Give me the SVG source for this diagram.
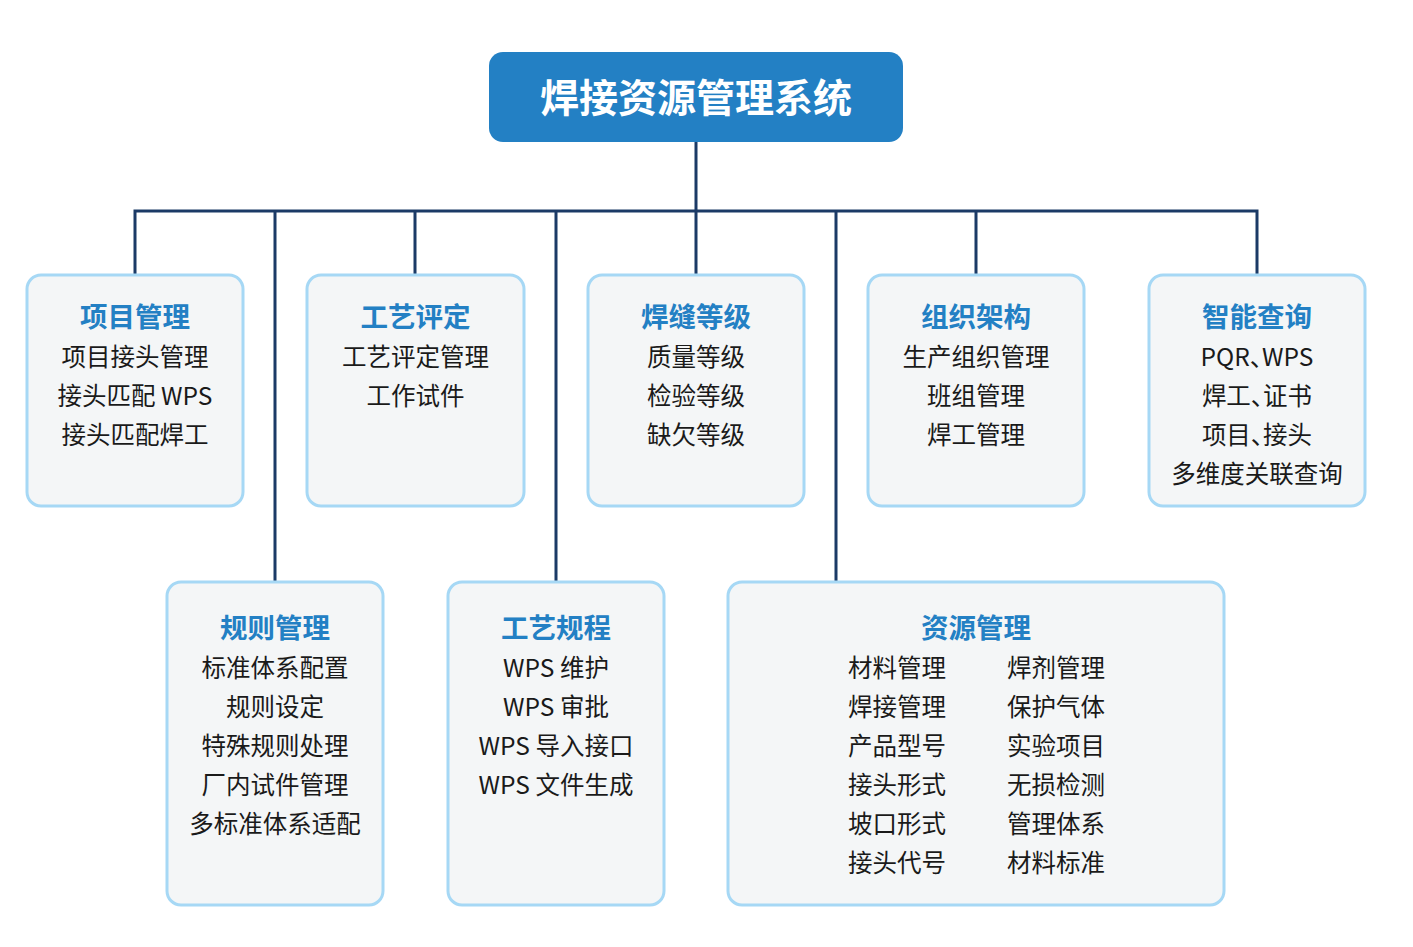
<svg xmlns="http://www.w3.org/2000/svg" width="1413" height="947" viewBox="0 0 1413 947">
<style>
.bg{fill:#ffffff}
.main{fill:#2380C4}
.box{fill:#F4F6F7;stroke:#A6D8F5;stroke-width:3}
.ln{stroke:#1B3A66;stroke-width:3;fill:none}
text{font-family:"Noto Sans CJK SC","Noto Sans",sans-serif;text-anchor:middle}
.mt{font-size:39px;font-weight:700;fill:#ffffff}
.t{font-size:27.5px;font-weight:700;fill:#2380C4}
.i{font-size:24.5px;font-weight:400;fill:#1a1a1a}
.l{text-anchor:start}
.h{font-feature-settings:"halt"}
</style>
<rect class="bg" x="0" y="0" width="1413" height="947"/>
<g id="connectors">
<path class="ln" d="M696 142V211M135 275V211H1257V275M415 211V275M696 211V275M976 211V275M275 211V582M556 211V582M836 211V582"/>
</g>
<g id="root">
<rect class="main" x="489" y="52" width="414" height="90" rx="14"/>
<text class="mt" x="696" y="112">焊接资源管理系统</text>
</g>
<g id="n1">
<rect class="box" x="27" y="275" width="216" height="231" rx="14"/>
<text class="t" x="135" y="327">项目管理</text>
<text class="i" x="135" y="366">项目接头管理</text>
<text class="i" x="135" y="405">接头匹配 WPS</text>
<text class="i" x="135" y="444">接头匹配焊工</text>
</g>
<g id="n2">
<rect class="box" x="307" y="275" width="217" height="231" rx="14"/>
<text class="t" x="415.5" y="327">工艺评定</text>
<text class="i" x="415.5" y="366">工艺评定管理</text>
<text class="i" x="415.5" y="405">工作试件</text>
</g>
<g id="n3">
<rect class="box" x="588" y="275" width="216" height="231" rx="14"/>
<text class="t" x="696" y="327">焊缝等级</text>
<text class="i" x="696" y="366">质量等级</text>
<text class="i" x="696" y="405">检验等级</text>
<text class="i" x="696" y="444">缺欠等级</text>
</g>
<g id="n4">
<rect class="box" x="868" y="275" width="216" height="231" rx="14"/>
<text class="t" x="976" y="327">组织架构</text>
<text class="i" x="976" y="366">生产组织管理</text>
<text class="i" x="976" y="405">班组管理</text>
<text class="i" x="976" y="444">焊工管理</text>
</g>
<g id="n5">
<rect class="box" x="1149" y="275" width="216" height="231" rx="14"/>
<text class="t" x="1257" y="327">智能查询</text>
<text class="i h" x="1257" y="366">PQR、WPS</text>
<text class="i h" x="1257" y="405">焊工、证书</text>
<text class="i h" x="1257" y="444">项目、接头</text>
<text class="i" x="1257" y="483">多维度关联查询</text>
</g>
<g id="n6">
<rect class="box" x="167" y="582" width="216" height="323" rx="14"/>
<text class="t" x="275" y="638">规则管理</text>
<text class="i" x="275" y="677">标准体系配置</text>
<text class="i" x="275" y="716">规则设定</text>
<text class="i" x="275" y="755">特殊规则处理</text>
<text class="i" x="275" y="794">厂内试件管理</text>
<text class="i" x="275" y="833">多标准体系适配</text>
</g>
<g id="n7">
<rect class="box" x="448" y="582" width="216" height="323" rx="14"/>
<text class="t" x="556" y="638">工艺规程</text>
<text class="i" x="556" y="677">WPS 维护</text>
<text class="i" x="556" y="716">WPS 审批</text>
<text class="i" x="556" y="755">WPS 导入接口</text>
<text class="i" x="556" y="794">WPS 文件生成</text>
</g>
<g id="n8">
<rect class="box" x="728" y="582" width="496" height="323" rx="14"/>
<text class="t" x="976" y="638">资源管理</text>
<text class="i l" x="848" y="677">材料管理</text>
<text class="i l" x="848" y="716">焊接管理</text>
<text class="i l" x="848" y="755">产品型号</text>
<text class="i l" x="848" y="794">接头形式</text>
<text class="i l" x="848" y="833">坡口形式</text>
<text class="i l" x="848" y="872">接头代号</text>
<text class="i l" x="1007" y="677">焊剂管理</text>
<text class="i l" x="1007" y="716">保护气体</text>
<text class="i l" x="1007" y="755">实验项目</text>
<text class="i l" x="1007" y="794">无损检测</text>
<text class="i l" x="1007" y="833">管理体系</text>
<text class="i l" x="1007" y="872">材料标准</text>
</g>
</svg>
